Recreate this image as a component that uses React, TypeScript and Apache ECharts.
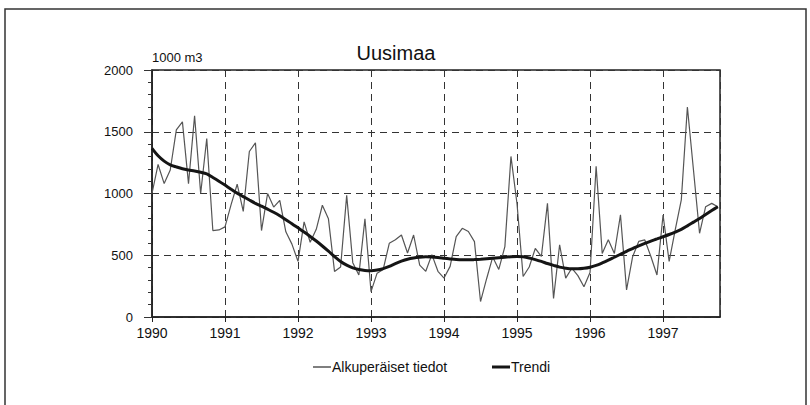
import React, { useEffect, useRef } from "react";
import * as echarts from "echarts";

const START_YEAR = 1990;
const X_MAX = 1997.78;
const xTickLabels = ["1990", "1991", "1992", "1993", "1994", "1995", "1996", "1997"];
const yTicks = [0, 500, 1000, 1500, 2000];

// Monthly original values, Jan 1990 .. Oct 1997 (1000 m3)
const originalValues = [
  1000, 1235, 1080, 1190, 1515, 1580, 1080, 1630, 1000, 1445, 700, 705,
  730, 910, 1075, 855, 1340, 1410, 700, 1000, 890, 945, 690, 590,
  450, 770, 605, 710, 905, 795, 368, 405, 985, 440, 340, 795,
  205, 355, 385, 597, 625, 664, 518, 664, 420, 370, 505, 370,
  315, 410, 650, 718, 692, 610, 125, 310, 485, 385, 570, 1300,
  915, 328, 405, 555, 490, 920, 150, 585, 315, 395, 335, 245,
  360, 1220, 515, 625, 515, 828, 220, 488, 612, 624, 490, 340,
  826, 450, 705, 948, 1700, 1190, 678, 893, 920, 893,
];

// Monthly trend values, same months
const trendValues = [
  1365, 1305, 1262, 1232, 1215, 1200, 1190, 1182, 1172, 1158, 1130, 1100,
  1068, 1035, 1003, 975, 947, 920, 897, 873, 848, 820, 788, 756,
  722, 688, 652, 615, 575, 533, 490, 450, 420, 398, 385, 377,
  375, 380, 392, 410, 432, 452, 468, 478, 484, 487, 486, 482,
  476, 470, 465, 463, 463, 465, 468, 472, 476, 480, 484, 488,
  490, 487, 478, 465, 450, 433, 418, 404, 395, 390, 390, 394,
  403, 418, 438, 460, 484, 508, 532, 554, 576, 596, 615, 632,
  650, 668, 688, 710, 738, 768, 798, 830, 862, 893,
];

const SERIES_ORIGINAL = "Alkuperäiset tiedot";
const SERIES_TREND = "Trendi";
const TITLE = "Uusimaa";
const UNIT = "1000 m3";

const FONT = "'Liberation Sans', Arial, Helvetica, sans-serif";

export default function App() {
  const ref = useRef<HTMLDivElement>(null);
  useEffect(() => {
    if (!ref.current) return;
    const chart = echarts.init(ref.current, null, { renderer: "svg" });
    const toPairs = (vals: number[]) => vals.map((v, i) => [START_YEAR + i / 12, v]);
    const dashed = { type: [7, 5] as any, color: "#333", width: 1 };
    chart.setOption({
      animation: false,
      backgroundColor: "#ffffff",
      textStyle: { fontFamily: FONT },
      title: {
        text: TITLE,
        left: 391,
        top: 38,
        textAlign: "center",
        textStyle: { fontSize: 20, fontWeight: "normal", color: "#111", fontFamily: FONT },
      },
      graphic: [
        {
          type: "rect",
          shape: { x: 5, y: 9, width: 801, height: 420 },
          style: { fill: "none", stroke: "#333", lineWidth: 1.5 },
          silent: true,
        },
        {
          type: "text",
          left: 152,
          top: 51,
          style: { text: UNIT, fontSize: 13, fill: "#111", fontFamily: FONT },
        },
      ],
      legend: [
        {
          data: [SERIES_ORIGINAL],
          icon: "rect",
          left: 308,
          top: 355,
          itemWidth: 18,
          itemHeight: 1.5,
          itemStyle: { color: "#555" },
          textStyle: { fontSize: 14, color: "#111", fontFamily: FONT, padding: [0, 0, 0, -4] },
        },
        {
          data: [SERIES_TREND],
          icon: "rect",
          left: 487,
          top: 355,
          itemWidth: 18,
          itemHeight: 3,
          itemStyle: { color: "#151515" },
          textStyle: { fontSize: 14, color: "#111", fontFamily: FONT, padding: [0, 0, 0, -4] },
        },
      ],
      grid: {
        left: 152,
        right: 90,
        top: 70,
        bottom: 88,
        show: true,
        borderColor: "#222",
        borderWidth: 1.5,
        backgroundColor: "transparent",
      },
      xAxis: {
        type: "value",
        min: START_YEAR,
        max: X_MAX,
        interval: 1,
        axisLine: { show: true, lineStyle: { color: "#222", width: 1.5 } },
        axisTick: { show: true, length: 5, lineStyle: { color: "#222" } },
        axisLabel: {
          fontSize: 14,
          color: "#111",
          margin: 9,
          showMaxLabel: false,
          formatter: (v: number) => {
            const idx = Math.round(v) - START_YEAR;
            return Math.abs(v - Math.round(v)) < 1e-6 && xTickLabels[idx] ? xTickLabels[idx] : "";
          },
        },
        splitLine: { show: true, lineStyle: dashed },
      },
      yAxis: {
        type: "value",
        min: yTicks[0],
        max: yTicks[yTicks.length - 1],
        interval: yTicks[1] - yTicks[0],
        axisLine: { show: true, lineStyle: { color: "#222", width: 1.5 } },
        axisTick: { show: true, length: 8, lineStyle: { color: "#333" } },
        minorTick: { show: true, splitNumber: 5, length: 4, lineStyle: { color: "#333" } },
        axisLabel: { fontSize: 13, color: "#111", margin: 19, formatter: (v: number) => String(v) },
        splitLine: { show: true, lineStyle: dashed },
      },
      series: [
        {
          name: SERIES_ORIGINAL,
          type: "line",
          data: toPairs(originalValues),
          symbol: "none",
          lineStyle: { color: "#555", width: 1.2 },
          itemStyle: { color: "#555" },
          z: 2,
        },
        {
          name: SERIES_TREND,
          type: "line",
          data: toPairs(trendValues),
          smooth: 0.3,
          symbol: "none",
          lineStyle: { color: "#151515", width: 3 },
          itemStyle: { color: "#151515" },
          z: 3,
        },
      ],
    });
    return () => chart.dispose();
  }, []);
  return (
    <div
      ref={ref}
      style={{ position: "fixed", left: 0, top: 0, width: 810, height: 405, background: "#fff" }}
    />
  );
}
